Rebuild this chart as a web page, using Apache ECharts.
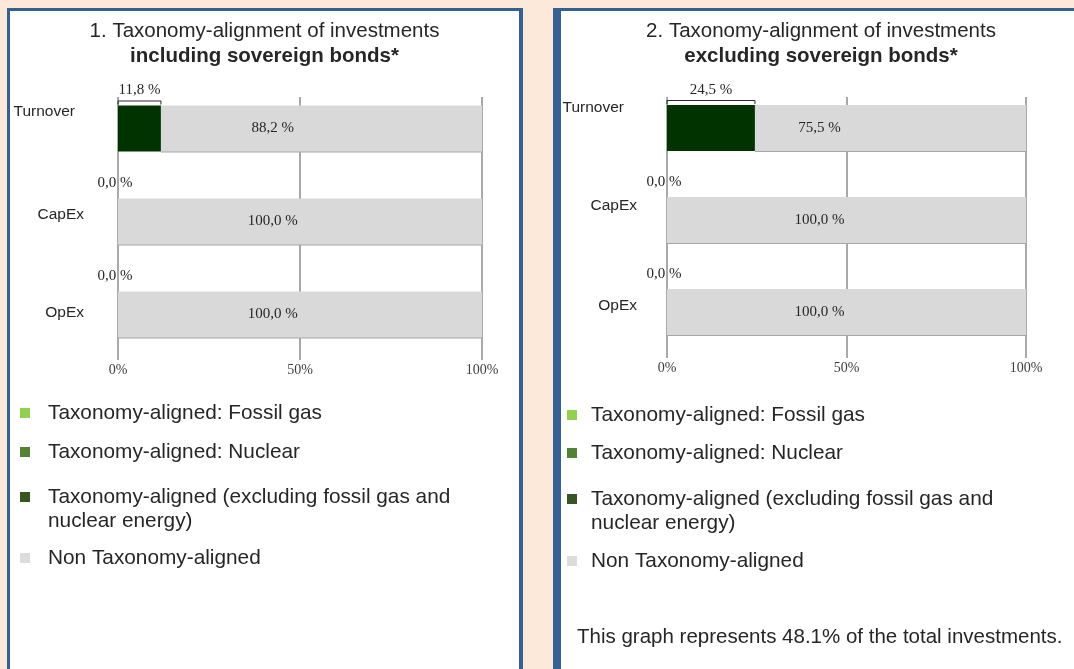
<!DOCTYPE html>
<html>
<head>
<meta charset="utf-8">
<script src="https://cdn.jsdelivr.net/npm/echarts@6/dist/echarts.min.js"></script>
<style>
  html, body { margin: 0; padding: 0; overflow: hidden; background: #fce9da; }
  .panel { position: absolute; top: 8px; height: 700px; background: #fff; border-style: solid; border-color: #376092; box-sizing: border-box; }
  #panel1 { left: 7px; width: 516px; border-width: 3px 4px 0 3px; }
  #panel2 { left: 553px; width: 600px; border-width: 3px 0 0 8px; }
  #chart { position: absolute; left: 0; top: 0; width: 1074px; height: 669px; }
</style>
</head>
<body>
<div class="panel" id="panel1"></div>
<div class="panel" id="panel2"></div>
<div id="chart"></div>
<script>
// data
const categories = ['Turnover', 'CapEx', 'OpEx']
const fossilGas1 = [0, 0, 0]
const nuclear1 = [0, 0, 0]
const aligned1 = [11.8, 0, 0]
const nonAligned1 = [88.2, 100, 100]
const fossilGas2 = [0, 0, 0]
const nuclear2 = [0, 0, 0]
const aligned2 = [24.5, 0, 0]
const nonAligned2 = [75.5, 100, 100]
const axisMax = 100
const axisStep = 50
const legendNames = [
  'Taxonomy-aligned: Fossil gas',
  'Taxonomy-aligned: Nuclear',
  'Taxonomy-aligned (excluding fossil gas and nuclear energy)',
  'Non Taxonomy-aligned'
]
const titles1 = ['1. Taxonomy-alignment of investments', 'including sovereign bonds*']
const titles2 = ['2. Taxonomy-alignment of investments', 'excluding sovereign bonds*']
const footnote = 'This graph represents 48.1% of the total investments.'

const sans = '"Liberation Sans", Arial, sans-serif'
const serif = '"Liberation Serif", "Times New Roman", serif'
const textColor = '#262626'
const legendColors = ['#92d050', '#548235', '#375623', '#dcdcdc']
const barColors = ['#92d050', '#548235', '#003300', '#d9d9d9']
const BAR_H = 46
const LABEL_AT = 42.5 // inside labels sit at the same spot of the axis

const fmt = (v) => v.toFixed(1).replace('.', ',') + ' %'

const renderLabels = (params, api) => {
  const cat = api.value(0)
  const green = api.value(1)
  const p0 = api.coord([0, cat])
  const p1 = api.coord([green, cat])
  const top = p0[1] - BAR_H / 2
  const children = []
  if (green > 0) {
    children.push({
      type: 'polyline',
      shape: { points: [[p0[0], top - 1], [p0[0], top - 4.5], [p1[0], top - 4.5], [p1[0], top - 1]] },
      style: { stroke: textColor, lineWidth: 1, fill: null }
    })
  }
  children.push({
    type: 'text',
    style: {
      text: fmt(green), x: (p0[0] + p1[0]) / 2 - (green > 0 ? 0 : 3), y: top - 15,
      align: 'center', verticalAlign: 'middle',
      fontFamily: serif, fontSize: 15, fill: textColor
    }
  })
  const pl = api.coord([LABEL_AT, cat])
  children.push({
    type: 'text',
    style: {
      text: fmt(api.value(2)), x: pl[0], y: p0[1],
      align: 'center', verticalAlign: 'middle',
      fontFamily: serif, fontSize: 15, fill: textColor
    }
  })
  return { type: 'group', children: children }
}

const panels = [
  {
    n: 1, titles: titles1, center: 264.5,
    values: [fossilGas1, nuclear1, aligned1, nonAligned1],
    left: 118, right: 592, barsTop: 82, barsHeight: 279, linesTop: 97, linesHeight: 263,
    labelMargin: 34,
    rich: [[0, 9, 33, 0], [0, 0, 14, 0], [0, 0, 3, 0]],
    legendLeft: 20, legendGap: 13, legendTops: [401, 440, 461, 546]
  },
  {
    n: 2, titles: titles2, center: 821,
    values: [fossilGas2, nuclear2, aligned2, nonAligned2],
    left: 667, right: 48, barsTop: 82, barsHeight: 276, linesTop: 97, linesHeight: 261,
    labelMargin: 30,
    rich: [[0, 13, 40, 0], [0, 0, 28, 0], [0, 0, 12, 0]],
    legendLeft: 567, legendGap: 9, legendTops: [403, 441, 463, 549]
  }
]

const grid = []
const xAxis = []
const yAxis = []
const series = []
const legend = []
const title = []

panels.forEach((p, k) => {
  const gBars = k * 2
  const gLines = k * 2 + 1
  grid.push({ left: p.left, right: p.right, top: p.barsTop, height: p.barsHeight })
  grid.push({ left: p.left, right: p.right, top: p.linesTop, height: p.linesHeight })

  xAxis.push({ gridIndex: gBars, type: 'value', min: 0, max: axisMax, show: false })
  xAxis.push({
    gridIndex: gLines, type: 'value', min: 0, max: axisMax, interval: axisStep,
    axisLine: { show: false }, axisTick: { show: false },
    splitLine: { show: true, lineStyle: { color: '#8c8c8c', width: 1.5 } },
    axisLabel: { formatter: '{value}%', fontFamily: serif, fontSize: 14, color: '#404040', margin: 3 }
  })

  const rich = {}
  p.rich.forEach((pad, i) => {
    rich['c' + i] = { fontFamily: sans, fontSize: 15.5, color: textColor, padding: pad }
  })
  yAxis.push({
    gridIndex: gBars, type: 'category', data: categories, inverse: true,
    axisLine: { show: false }, axisTick: { show: false }, splitLine: { show: false },
    axisLabel: {
      margin: p.labelMargin,
      formatter: (v, i) => '{c' + i + '|' + v + '}',
      rich: rich
    }
  })
  yAxis.push({ gridIndex: gLines, type: 'value', show: false })

  p.values.forEach((vals, i) => {
    const s = {
      name: legendNames[i], type: 'bar', xAxisIndex: gBars, yAxisIndex: gBars,
      stack: 'panel' + p.n, barWidth: BAR_H, data: vals,
      itemStyle: { color: barColors[i] }
    }
    if (i === 3) {
      s.itemStyle.shadowColor = '#a6a6a6'
      s.itemStyle.shadowOffsetY = 1
      s.itemStyle.shadowBlur = 0
    }
    series.push(s)
  })
  series.push({
    type: 'custom', xAxisIndex: gBars, yAxisIndex: gBars, silent: true, z: 10,
    encode: { x: [1, 2], y: 0 },
    data: categories.map((c, i) => [i, p.values[2][i], p.values[3][i]]),
    renderItem: renderLabels
  })

  legendNames.forEach((name, i) => {
    legend.push({
      data: [{ name: name, itemStyle: { color: legendColors[i] } }],
      left: p.legendLeft, top: p.legendTops[i], padding: 0,
      orient: 'vertical', icon: 'rect', itemWidth: 10, itemHeight: 10,
      selectedMode: false,
      // long name wraps after "and"; a blank first line keeps the square level with line one
      formatter: (nm) => nm.indexOf('gas and ') > 0 ? ' \n' + nm.replace('gas and ', 'gas and\n') : nm,
      textStyle: {
        fontFamily: sans, fontSize: 20.8, color: textColor, lineHeight: 24,
        padding: [0, 0, 0, p.legendGap]
      }
    })
  })

  title.push({
    text: '{a|' + p.titles[0] + '}\n{b|' + p.titles[1] + '}',
    left: p.center, top: 19, padding: 0, textAlign: 'center',
    textStyle: {
      fontWeight: 'normal',
      rich: {
        a: { fontFamily: sans, fontSize: 20.5, fontWeight: 'normal', color: textColor, lineHeight: 25 },
        b: { fontFamily: sans, fontSize: 20.5, fontWeight: 'bold', color: textColor, lineHeight: 25 }
      }
    }
  })
})

title.push({
  text: footnote, left: 577, top: 625, padding: 0,
  textStyle: { fontFamily: sans, fontSize: 20.5, fontWeight: 'normal', color: textColor, lineHeight: 24 }
})

const chart = echarts.init(document.getElementById('chart'))
chart.setOption({
  animation: false,
  title: title,
  legend: legend,
  grid: grid,
  xAxis: xAxis,
  yAxis: yAxis,
  series: series
})
</script>
</body>
</html>
